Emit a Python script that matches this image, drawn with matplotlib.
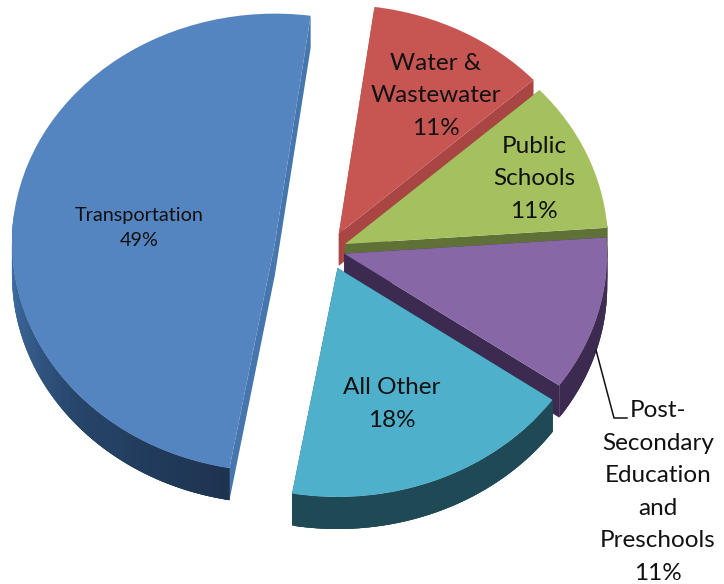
import numpy as np
import matplotlib
matplotlib.use("Agg")
import matplotlib.pyplot as plt
from matplotlib.colors import LinearSegmentedColormap

W, H = 724, 584
plt.rcParams['font.family'] = ['Lato', 'DejaVu Sans']

# data (anticlockwise from the Transportation slice)
categories = ["Transportation", "All Other", "Post-\nSecondary\nEducation\nand\nPreschools", "Public\nSchools", "Water &\nWastewater"]
values = [49.4, 18, 10.9, 10.6, 11.1]

# styles
explode = [0.208, 0.085, 0.06, 0.066, 0.08]
top_colors = ["#5585c0", "#4fb0cb", "#8767a6", "#a5c15f", "#c75653"]
cut_colors = ["#4676ae", "#1f4a55", "#3c2a50", "#5f7137", "#a94644"]
rim_stops = [
    [(0.0, "#4a78b2"), (0.5, "#4a78b2"), (0.58, "#3f6ca3"), (0.78, "#27466b"), (1.0, "#1e3350")],
    [(0.0, "#1f4a55"), (1.0, "#1f4a55")],
    [(0.0, "#3c2a50"), (1.0, "#3c2a50")],
    [(0.0, "#5f7137"), (1.0, "#5f7137")],
    [(0.0, "#a94644"), (1.0, "#a94644")],
]
draw_rank = [0, 4, 3, 2, 1]   # back-to-front layer of each slice

A_PX, B_PX = 263.0, 229.0     # ellipse half-axes in pixels
CX, CY = 329.0, 250.0         # pie centre in pixels
DEPTH = 32.0 / B_PX

fig = plt.figure(figsize=(W / 100, H / 100), dpi=100, facecolor="white")
ax = fig.add_axes([0, 0, 1, 1])

wedges, _ = ax.pie(values, explode=explode, startangle=82.2, colors=top_colors,
                   counterclock=True, radius=1.0, wedgeprops=dict(linewidth=0))
ax.set_aspect("auto")
ax.set_xlim(-CX / A_PX, (W - CX) / A_PX)
ax.set_ylim((CY - H) / B_PX, CY / B_PX)
ax.axis("off")


def quad(p0, p1, color, z):
    xs = [p0[0], p1[0], p1[0], p0[0]]
    ys = [p0[1], p1[1], p1[1] - DEPTH, p0[1] - DEPTH]
    ax.fill(xs, ys, facecolor=color, edgecolor="none", linewidth=0, zorder=z)


for i, w in enumerate(wedges):
    z = 2 + draw_rank[i] * 2
    w.set_zorder(z + 1)
    cx, cy = w.center
    r = w.r
    t1, t2 = np.radians(w.theta1), np.radians(w.theta2)
    for t in (t1, t2):
        quad((cx, cy), (cx + r * np.cos(t), cy + r * np.sin(t)), cut_colors[i], z)
    cmap = LinearSegmentedColormap.from_list("rim", rim_stops[i])
    angles = np.linspace(t1, t2, 181)
    for k in range(len(angles) - 1):
        a0, a1 = angles[k], angles[min(k + 3, len(angles) - 1)]
        if np.sin(a0) > 0.1 and np.sin(a1) > 0.1:
            continue
        quad((cx + r * np.cos(a0), cy + r * np.sin(a0)),
             (cx + r * np.cos(a1), cy + r * np.sin(a1)),
             cmap(k / (len(angles) - 2)), z + 0.5)


def px(x, y):
    return x / W, 1 - y / H


def label(i, x, y, size, spacing):
    fig.text(*px(x, y), f"{categories[i]}\n{round(values[i])}%", ha="center", va="center",
             fontsize=size, color="#111111", linespacing=spacing, zorder=30)


label(0, 139, 228, 14.3, 1.64)
label(1, 392, 404, 17.5, 1.67)
label(3, 534, 179, 17.5, 1.67)
label(4, 436, 96, 17.5, 1.67)
label(2, 658, 492, 17.5, 1.68)

lx, ly = zip(px(596, 350), px(614, 418), px(627, 418))
fig.add_artist(plt.Line2D(lx, ly, color="#111111", linewidth=1.1, zorder=25))

fig.savefig("out.png", dpi=100, facecolor="white")
